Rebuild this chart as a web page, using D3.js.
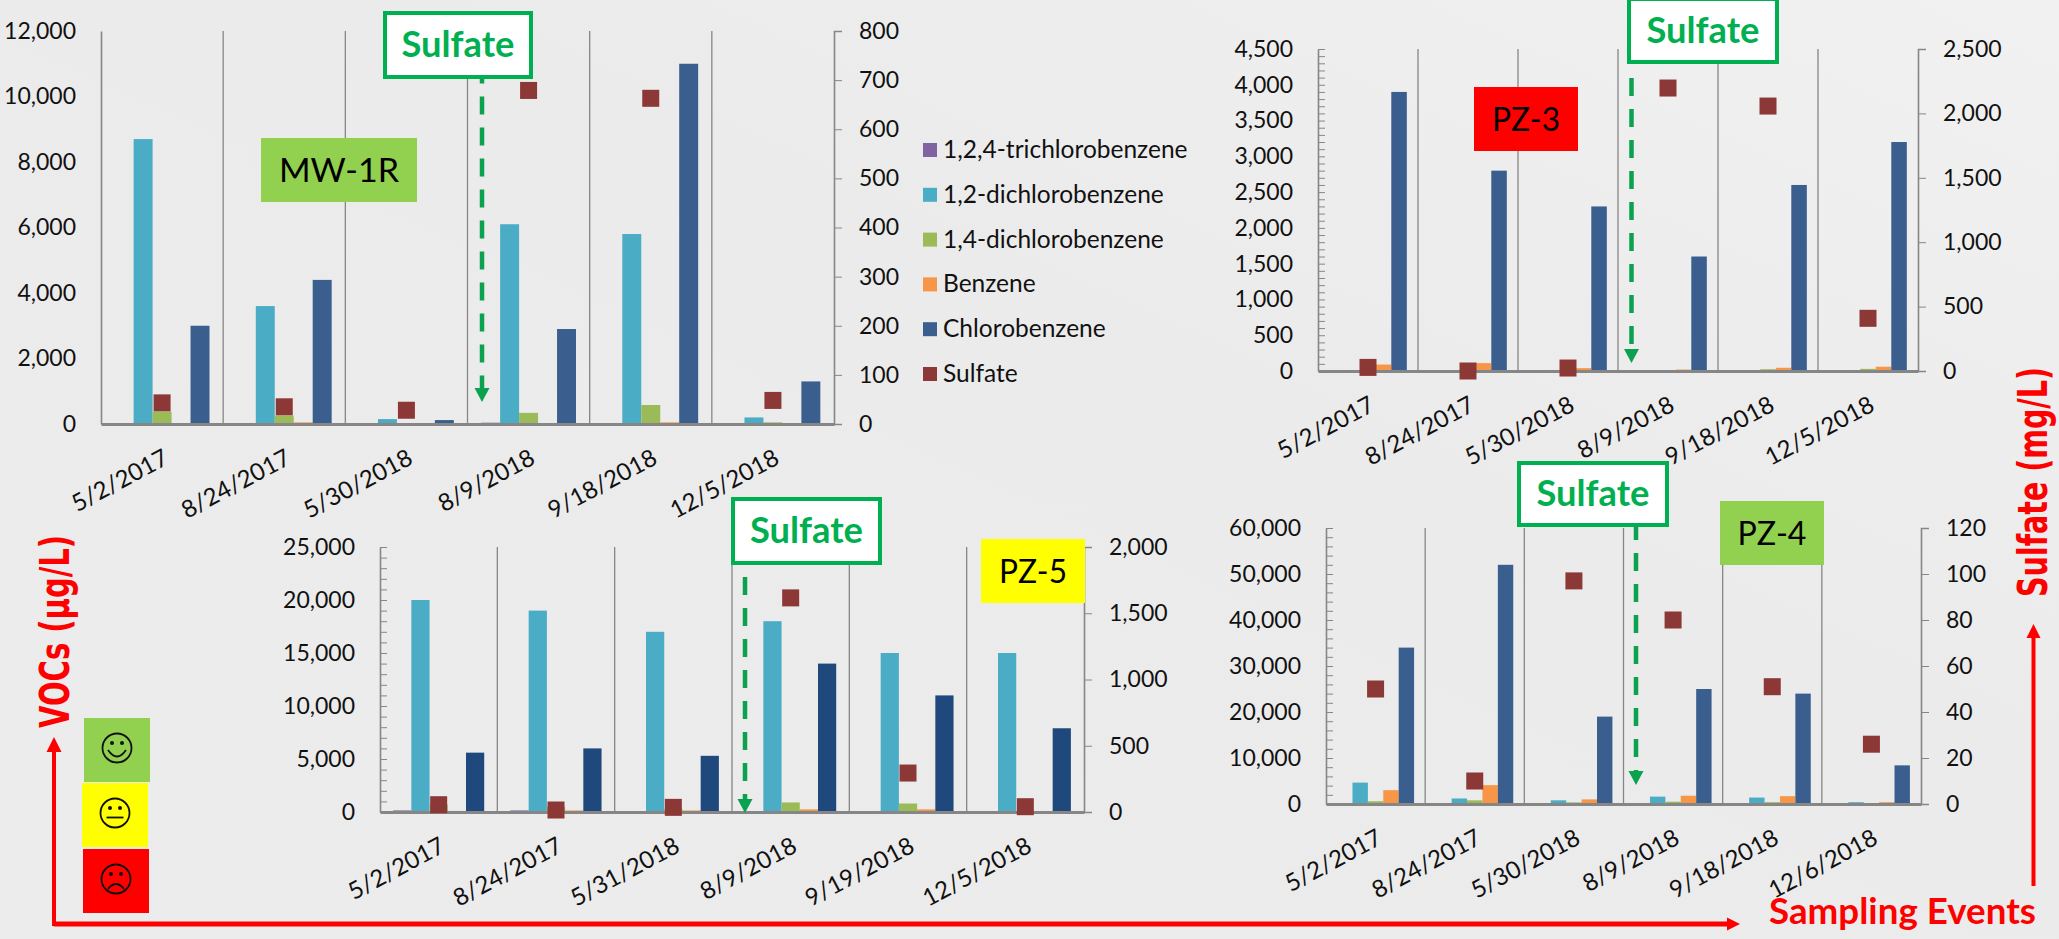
<!DOCTYPE html>
<html>
<head>
<meta charset="utf-8">
<script src="https://cdn.jsdelivr.net/npm/d3@7"></script>
<style>
  html, body { margin: 0; padding: 0; background: #ededed; overflow: hidden; }
  svg { display: block; font-family: Lato, "Open Sans", sans-serif; }
</style>
</head>
<body>
<script>
// Series shared by every well
const seriesNames = ["1,2,4-trichlorobenzene", "1,2-dichlorobenzene", "1,4-dichlorobenzene", "Benzene", "Chlorobenzene"];
const sulfateName = "Sulfate";

// MW-1R
const mw1rDates = ["5/2/2017", "8/24/2017", "5/30/2018", "8/9/2018", "9/18/2018", "12/5/2018"];
const mw1rTrichlorobenzene = [0, 0, 0, 40, 0, 0];
const mw1rDichlorobenzene12 = [8700, 3600, 150, 6100, 5800, 200];
const mw1rDichlorobenzene14 = [380, 260, 0, 340, 580, 50];
const mw1rBenzene = [0, 50, 0, 0, 50, 0];
const mw1rChlorobenzene = [3000, 4400, 120, 2900, 11000, 1300];
const mw1rSulfate = [43, 35, 28, 679, 663, 48];
const mw1rVocTicks = [0, 2000, 4000, 6000, 8000, 10000, 12000];
const mw1rSulfateTicks = [0, 100, 200, 300, 400, 500, 600, 700, 800];

// PZ-3
const pz3Dates = ["5/2/2017", "8/24/2017", "5/30/2018", "8/9/2018", "9/18/2018", "12/5/2018"];
const pz3Trichlorobenzene = [0, 0, 0, 0, 0, 0];
const pz3Dichlorobenzene12 = [0, 0, 0, 0, 0, 0];
const pz3Dichlorobenzene14 = [0, 0, 0, 10, 25, 30];
const pz3Benzene = [90, 110, 40, 20, 45, 60];
const pz3Chlorobenzene = [3900, 2800, 2300, 1600, 2600, 3200];
const pz3Sulfate = [28, 0, 23, 2197, 2057, 409];
const pz3VocTicks = [0, 500, 1000, 1500, 2000, 2500, 3000, 3500, 4000, 4500];
const pz3SulfateTicks = [0, 500, 1000, 1500, 2000, 2500];

// PZ-5
const pz5Dates = ["5/2/2017", "8/24/2017", "5/31/2018", "8/9/2018", "9/19/2018", "12/5/2018"];
const pz5Trichlorobenzene = [150, 150, 0, 0, 0, 0];
const pz5Dichlorobenzene12 = [20000, 19000, 17000, 18000, 15000, 15000];
const pz5Dichlorobenzene14 = [700, 500, 300, 900, 800, 100];
const pz5Benzene = [100, 150, 150, 250, 250, 50];
const pz5Chlorobenzene = [5600, 6000, 5300, 14000, 11000, 7900];
const pz5Sulfate = [55, 15, 35, 1616, 294, 40];
const pz5VocTicks = [0, 5000, 10000, 15000, 20000, 25000];
const pz5SulfateTicks = [0, 500, 1000, 1500, 2000];

// PZ-4
const pz4Dates = ["5/2/2017", "8/24/2017", "5/30/2018", "8/9/2018", "9/18/2018", "12/6/2018"];
const pz4Trichlorobenzene = [0, 0, 0, 0, 0, 0];
const pz4Dichlorobenzene12 = [4650, 1200, 800, 1600, 1400, 400];
const pz4Dichlorobenzene14 = [600, 800, 350, 500, 400, 50];
const pz4Benzene = [3000, 4100, 1000, 1800, 1700, 400];
const pz4Chlorobenzene = [34000, 52000, 19000, 25000, 24000, 8400];
const pz4Sulfate = [50, 10, 97, 80, 51, 26];
const pz4VocTicks = [0, 10000, 20000, 30000, 40000, 50000, 60000];
const pz4SulfateTicks = [0, 20, 40, 60, 80, 100, 120];

// Colours
const seriesColors = ["#8064A2", "#4BACC6", "#9BBB59", "#F79646", "#3A5F8F"];
const sulfateColor = "#8C3836";
const axisColor = "#868686";
const calloutGreen = "#00B050";
const arrowGreen = "#0AA14F";
const alertRed = "#FF0000";
const labelGreen = "#92D050";

const width = 2059, height = 939;

const panels = [
  { dates: mw1rDates, vocs: [mw1rTrichlorobenzene, mw1rDichlorobenzene12, mw1rDichlorobenzene14, mw1rBenzene, mw1rChlorobenzene],
    sulfate: mw1rSulfate, vocTicks: mw1rVocTicks, sulfateTicks: mw1rSulfateTicks, minorStep: 0,
    left: 101, right: 834, top: 31, bottom: 424,
    label: { text: "MW-1R", x: 261, y: 138, w: 156, h: 64, fill: labelGreen, len: 120 },
    callout: { x: 383, y: 11, w: 150, h: 68 }, arrow: { x: 482, y1: 65.5, y2: 402 } },
  { dates: pz3Dates, vocs: [pz3Trichlorobenzene, pz3Dichlorobenzene12, pz3Dichlorobenzene14, pz3Benzene, pz3Chlorobenzene],
    sulfate: pz3Sulfate, vocTicks: pz3VocTicks, sulfateTicks: pz3SulfateTicks, minorStep: 100,
    left: 1318, right: 1918, top: 49, bottom: 371,
    label: { text: "PZ-3", x: 1474, y: 87, w: 104, h: 64, fill: alertRed, len: 68 },
    callout: { x: 1627, y: -3, w: 152, h: 67 }, arrow: { x: 1631.5, y1: 78, y2: 363 } },
  { dates: pz5Dates, vocs: [pz5Trichlorobenzene, pz5Dichlorobenzene12, pz5Dichlorobenzene14, pz5Benzene, pz5Chlorobenzene],
    sulfate: pz5Sulfate, vocTicks: pz5VocTicks, sulfateTicks: pz5SulfateTicks, minorStep: 1000,
    left: 380, right: 1084, top: 547, bottom: 812, chlorobenzeneColor: "#1F497D",
    label: { text: "PZ-5", x: 981, y: 539, w: 104, h: 64, fill: "#FFFF00", len: 68 },
    callout: { x: 731, y: 497, w: 151, h: 68 }, arrow: { x: 745, y1: 577, y2: 813 } },
  { dates: pz4Dates, vocs: [pz4Trichlorobenzene, pz4Dichlorobenzene12, pz4Dichlorobenzene14, pz4Benzene, pz4Chlorobenzene],
    sulfate: pz4Sulfate, vocTicks: pz4VocTicks, sulfateTicks: pz4SulfateTicks, minorStep: 2000,
    left: 1326, right: 1921, top: 528, bottom: 804,
    label: { text: "PZ-4", x: 1720, y: 501, w: 104, h: 64, fill: labelGreen, len: 69 },
    callout: { x: 1517, y: 461, w: 152, h: 66 }, arrow: { x: 1636, y1: 522, y2: 785 } }
];

const svg = d3.select("body").append("svg").attr("width", width).attr("height", height);

// Backdrop: pale grey with a soft bright sweep towards the right
const defs = svg.append("defs");
const sweep = defs.append("linearGradient").attr("id", "backdrop")
  .attr("x1", 0).attr("y1", 1).attr("x2", 1).attr("y2", 0);
sweep.append("stop").attr("offset", 0).attr("stop-color", "#ececec");
sweep.append("stop").attr("offset", 0.6).attr("stop-color", "#ebebeb");
sweep.append("stop").attr("offset", 1).attr("stop-color", "#f1f1f1");
svg.append("rect").attr("width", width).attr("height", height).attr("fill", "url(#backdrop)");

function styleAxis(g) {
  g.selectAll("path.domain").attr("stroke", axisColor);
  g.selectAll("line").attr("stroke", axisColor);
  g.selectAll("text").attr("fill", "#111").style("font-size", "23px").style("font-family", "Lato");
}

function drawPanel(p) {
  const g = svg.append("g");
  const x0 = d3.scaleBand().domain(d3.range(p.dates.length)).range([p.left, p.right]);
  const yVoc = d3.scaleLinear().domain(d3.extent(p.vocTicks)).range([p.bottom, p.top]);
  const ySul = d3.scaleLinear().domain(d3.extent(p.sulfateTicks)).range([p.bottom, p.top]);
  const x1 = d3.scaleBand().domain(seriesNames).range([0, x0.bandwidth()]).paddingInner(0).paddingOuter(0.72);

  // Vertical separators between sampling events
  g.selectAll("line.sep").data(d3.range(1, p.dates.length)).join("line")
    .attr("class", "sep")
    .attr("x1", i => x0(i)).attr("x2", i => x0(i))
    .attr("y1", p.top).attr("y2", p.bottom)
    .attr("stroke", axisColor).attr("stroke-width", 1.3);

  // VOC bars
  seriesNames.forEach((name, s) => {
    g.append("g").selectAll("rect").data(p.vocs[s]).join("rect")
      .attr("x", (d, i) => x0(i) + x1(name))
      .attr("width", x1.bandwidth())
      .attr("y", d => yVoc(d))
      .attr("height", d => yVoc(0) - yVoc(d))
      .attr("fill", s === 4 && p.chlorobenzeneColor ? p.chlorobenzeneColor : seriesColors[s]);
  });

  // Left axis with minor ticks on the inside
  const leftAxis = g.append("g").attr("transform", `translate(${p.left},0)`)
    .call(d3.axisLeft(yVoc).tickValues(p.vocTicks).tickSize(0).tickPadding(25).tickFormat(d3.format(",")))
    .call(styleAxis);
  leftAxis.select("path.domain").attr("stroke-width", 1.6);
  if (p.minorStep) {
    const [lo, hi] = yVoc.domain();
    const minor = d3.range(lo, hi + p.minorStep, p.minorStep);
    g.append("g").attr("transform", `translate(${p.left},0)`)
      .call(d3.axisRight(yVoc).tickValues(minor).tickSize(7).tickFormat(""))
      .call(styleAxis)
      .call(a => a.select("path.domain").remove());
  }

  // Right axis for sulfate
  const rightAxis = g.append("g").attr("transform", `translate(${p.right},0)`)
    .call(d3.axisRight(ySul).tickValues(p.sulfateTicks).tickSize(8).tickPadding(17).tickFormat(d3.format(",")))
    .call(styleAxis);
  rightAxis.select("path.domain").attr("stroke-width", 1.6);

  // Date axis with slanted labels
  const bottomAxis = g.append("g").attr("transform", `translate(0,${p.bottom})`)
    .call(d3.axisBottom(x0).tickSize(0).tickFormat(i => p.dates[i]))
    .call(styleAxis);
  bottomAxis.select("path.domain").attr("stroke-width", 3);
  bottomAxis.selectAll("text")
    .attr("text-anchor", "end").attr("x", 0).attr("y", 0).attr("dy", 0)
    .style("font-size", "24px")
    .attr("transform", "translate(8,39) rotate(-28)");

  // Sulfate markers
  const mark = 17;
  g.append("g").selectAll("rect").data(p.sulfate).join("rect")
    .attr("x", (d, i) => x0(i) + x0.bandwidth() / 2 - mark / 2)
    .attr("y", d => ySul(d) - mark / 2)
    .attr("width", mark).attr("height", mark)
    .attr("fill", sulfateColor);

  // Well name tag
  g.append("rect").attr("x", p.label.x).attr("y", p.label.y)
    .attr("width", p.label.w).attr("height", p.label.h).attr("fill", p.label.fill);
  g.append("text").attr("x", p.label.x + p.label.w / 2).attr("y", p.label.y + p.label.h / 2 + 12)
    .attr("text-anchor", "middle").attr("fill", "#000").style("font-size", "33px")
    .attr("textLength", p.label.len).attr("lengthAdjust", "spacingAndGlyphs")
    .text(p.label.text);

  // Dashed arrow dropping from the callout
  const headLen = 14, headHalf = 7.5;
  g.append("line").attr("x1", p.arrow.x).attr("x2", p.arrow.x)
    .attr("y1", p.arrow.y1).attr("y2", p.arrow.y2 - headLen)
    .attr("stroke", arrowGreen).attr("stroke-width", 4.5).attr("stroke-dasharray", "18 13");
  g.append("path")
    .attr("d", d3.line()([[p.arrow.x - headHalf, p.arrow.y2 - headLen], [p.arrow.x + headHalf, p.arrow.y2 - headLen], [p.arrow.x, p.arrow.y2]]) + "Z")
    .attr("fill", arrowGreen);

  // Sulfate callout
  g.append("rect").attr("x", p.callout.x + 2).attr("y", p.callout.y + 2)
    .attr("width", p.callout.w - 4).attr("height", p.callout.h - 4)
    .attr("fill", "#fff").attr("stroke", calloutGreen).attr("stroke-width", 4);
  g.append("text").attr("x", p.callout.x + p.callout.w / 2).attr("y", p.callout.y + p.callout.h / 2 + 12)
    .attr("text-anchor", "middle").attr("fill", calloutGreen)
    .style("font-size", "36px").style("font-weight", 700)
    .attr("textLength", 113).attr("lengthAdjust", "spacingAndGlyphs")
    .text(sulfateName);
}
panels.forEach(drawPanel);

// Shared legend
const legendRows = [...seriesNames, sulfateName];
const legendColors = [...seriesColors, sulfateColor];
const legendY = d3.scalePoint().domain(legendRows).range([150, 374]);
const legend = svg.append("g");
legend.selectAll("rect").data(legendRows).join("rect")
  .attr("x", 923).attr("y", d => legendY(d) - 7).attr("width", 14).attr("height", 14)
  .attr("fill", (d, i) => legendColors[i]);
legend.selectAll("text").data(legendRows).join("text")
  .attr("x", 943).attr("y", d => legendY(d) + 8)
  .attr("fill", "#111").style("font-size", "24.5px")
  .text(d => d);

// Condition key: good, caution, poor
const faces = [
  { x: 84, y: 718, fill: labelGreen, mouth: "smile" },
  { x: 82, y: 783, fill: "#FFFF00", mouth: "flat" },
  { x: 83, y: 849, fill: alertRed, mouth: "frown" }
];
const faceG = svg.append("g").selectAll("g").data(faces).join("g")
  .attr("transform", d => `translate(${d.x},${d.y})`);
faceG.append("rect").attr("width", 66).attr("height", 64).attr("fill", d => d.fill);
const faceInner = faceG.append("g").attr("transform", "translate(33,30)")
  .attr("fill", "none").attr("stroke", "#111").attr("stroke-width", 1.8);
faceInner.append("circle").attr("r", 14.5);
faceInner.selectAll("circle.eye").data([-5, 5]).join("circle").attr("class", "eye")
  .attr("cx", d => d).attr("cy", -5).attr("r", 2).attr("fill", "#111").attr("stroke", "none");
faceInner.append("path").attr("d", function () {
  const m = d3.select(this.parentNode).datum().mouth;
  if (m === "smile") return "M-9,2 Q0,15 9,2";
  if (m === "flat") return "M-8.5,4.5 L8.5,4.5";
  return "M-8,10 Q0,0 8,10";
});

// Red axis arrows and titles
const red = svg.append("g").attr("fill", alertRed);
red.append("rect").attr("x", 52).attr("y", 750).attr("width", 4).attr("height", 176);
red.append("rect").attr("x", 54).attr("y", 921.5).attr("width", 1674).attr("height", 5);
red.append("path").attr("d", "M54,737 L61.5,752 L46.5,752 Z");
red.append("path").attr("d", "M1740,924 L1727,917.5 L1727,930.5 Z");
red.append("rect").attr("x", 2031.5).attr("y", 636).attr("width", 4).attr("height", 250);
red.append("path").attr("d", "M2033.5,624 L2040.5,638 L2026.5,638 Z");

red.append("text").attr("transform", "translate(69,728) rotate(-90)")
  .style("font-family", "'DejaVu Sans'").style("font-size", "40px").style("font-weight", 700)
  .attr("textLength", 193).attr("lengthAdjust", "spacingAndGlyphs").text("VOCs (µg/L)");
red.append("text").attr("transform", "translate(2047,597) rotate(-90)")
  .style("font-family", "'DejaVu Sans'").style("font-size", "40px").style("font-weight", 700)
  .attr("textLength", 230).attr("lengthAdjust", "spacingAndGlyphs").text("Sulfate (mg/L)");
red.append("text").attr("x", 1769).attr("y", 924)
  .style("font-size", "36px").style("font-weight", 700)
  .attr("textLength", 267).attr("lengthAdjust", "spacingAndGlyphs").text("Sampling Events");
</script>
</body>
</html>
